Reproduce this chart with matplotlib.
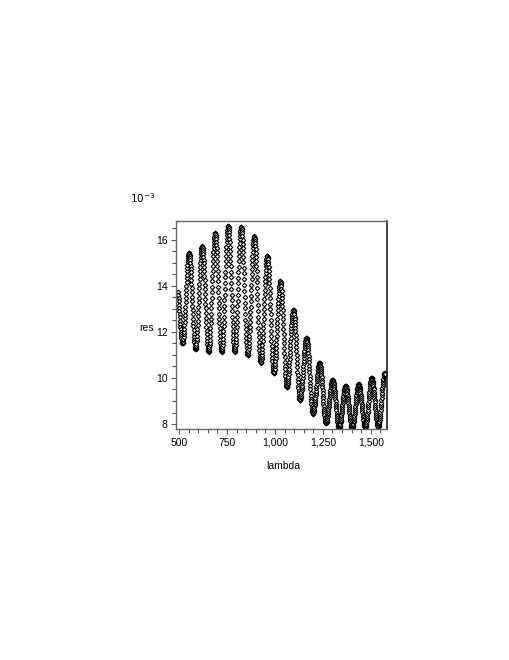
import numpy as np
import matplotlib
matplotlib.use("Agg")
import matplotlib.pyplot as plt
from matplotlib.ticker import FuncFormatter, MultipleLocator

plt.rcParams['font.family'] = ['Liberation Sans', 'DejaVu Sans']

# res in units of 1e-3, one sample per nm, first sample at lam_start
lam_start = 496

# lambda 496 - 789
res_a = [
    13.74, 13.61, 13.47, 13.34, 13.19, 13.05, 12.91, 12.76, 12.63, 12.49, 12.36,
    12.23, 12.12, 12.01, 11.91, 11.81, 11.73, 11.66, 11.61, 11.56, 11.53, 11.51,
    11.50, 11.51, 11.54, 11.57, 11.63, 11.70, 11.79, 11.90, 12.01, 12.14, 12.28, 12.43,
    12.59, 12.75, 12.92, 13.10, 13.28, 13.46, 13.64, 13.82, 14.00, 14.17, 14.33, 14.49,
    14.64, 14.78, 14.91, 15.02, 15.13, 15.22, 15.29, 15.35, 15.39, 15.41,
    15.42, 15.41, 15.38, 15.34, 15.28, 15.20, 15.11, 15.00, 14.87, 14.74, 14.59, 14.43,
    14.26, 14.09, 13.91, 13.72, 13.53, 13.34, 13.14, 12.95, 12.76, 12.58, 12.41, 12.24,
    12.08, 11.93, 11.80, 11.67, 11.56, 11.47, 11.39, 11.33, 11.29, 11.26,
    11.25, 11.26, 11.29, 11.34, 11.40, 11.48, 11.59, 11.70, 11.84, 11.98, 12.14, 12.31,
    12.49, 12.68, 12.87, 13.07, 13.28, 13.49, 13.69, 13.90, 14.10, 14.29, 14.48, 14.66,
    14.83, 14.99, 15.13, 15.27, 15.39, 15.49, 15.57, 15.64, 15.68, 15.71,
    15.72, 15.71, 15.68, 15.63, 15.57, 15.48, 15.38, 15.26, 15.12, 14.98, 14.81, 14.64,
    14.45, 14.26, 14.06, 13.86, 13.65, 13.44, 13.23, 13.02, 12.81, 12.61, 12.42, 12.23,
    12.06, 11.90, 11.75, 11.61, 11.49, 11.39, 11.31, 11.24, 11.19, 11.16,
    11.15, 11.16, 11.20, 11.25, 11.33, 11.42, 11.54, 11.67, 11.83, 11.99, 12.18, 12.37,
    12.58, 12.79, 13.02, 13.25, 13.49, 13.73, 13.96, 14.20, 14.43, 14.66, 14.87, 15.08,
    15.28, 15.46, 15.63, 15.78, 15.91, 16.03, 16.13, 16.20, 16.25, 16.29,
    16.30, 16.29, 16.25, 16.20, 16.13, 16.03, 15.91, 15.78, 15.63, 15.46, 15.28, 15.08,
    14.87, 14.66, 14.43, 14.20, 13.96, 13.72, 13.49, 13.25, 13.02, 12.79, 12.58, 12.37,
    12.18, 11.99, 11.83, 11.67, 11.54, 11.42, 11.33, 11.25, 11.20, 11.16,
    11.15, 11.16, 11.20, 11.25, 11.34, 11.43, 11.56, 11.70, 11.86, 12.04, 12.24, 12.44,
    12.66, 12.89, 13.13, 13.37, 13.62, 13.88, 14.13, 14.38, 14.62, 14.86, 15.09, 15.31,
    15.52, 15.71, 15.89, 16.05, 16.19, 16.32, 16.42, 16.50, 16.55, 16.59,
    16.60, 16.59, 16.55, 16.50, 16.42, 16.32, 16.19, 16.05, 15.89, 15.71, 15.52, 15.31,
    15.09, 14.86, 14.62, 14.38, 14.13, 13.87, 13.62, 13.37, 13.13, 12.89, 12.66, 12.44,
    12.24, 12.04, 11.86, 11.70, 11.56, 11.43, 11.34, 11.25, 11.20, 11.16,
]

# lambda 790 - 1129
res_b = [
    11.15, 11.16, 11.20, 11.25, 11.33, 11.43, 11.56, 11.70, 11.86, 12.03, 12.23, 12.44,
    12.65, 12.88, 13.12, 13.36, 13.61, 13.86, 14.11, 14.36, 14.60, 14.84, 15.07, 15.29,
    15.49, 15.69, 15.86, 16.02, 16.16, 16.29, 16.39, 16.47, 16.52, 16.56,
    16.57, 16.56, 16.52, 16.46, 16.38, 16.28, 16.15, 16.01, 15.84, 15.66, 15.46, 15.25,
    15.03, 14.79, 14.55, 14.30, 14.04, 13.79, 13.53, 13.27, 13.02, 12.78, 12.54, 12.32,
    12.11, 11.91, 11.73, 11.56, 11.42, 11.29, 11.19, 11.11, 11.05, 11.01,
    11.00, 11.01, 11.05, 11.10, 11.18, 11.27, 11.39, 11.52, 11.68, 11.84, 12.03, 12.22,
    12.43, 12.64, 12.87, 13.10, 13.34, 13.58, 13.81, 14.05, 14.28, 14.51, 14.72, 14.93,
    15.13, 15.31, 15.48, 15.63, 15.76, 15.88, 15.98, 16.05, 16.10, 16.14,
    16.15, 16.14, 16.10, 16.05, 15.96, 15.87, 15.74, 15.60, 15.43, 15.26, 15.06, 14.85,
    14.63, 14.40, 14.16, 13.91, 13.66, 13.41, 13.16, 12.91, 12.66, 12.42, 12.19, 11.97,
    11.76, 11.56, 11.39, 11.22, 11.08, 10.96, 10.86, 10.77, 10.72, 10.68,
    10.67, 10.68, 10.71, 10.76, 10.83, 10.91, 11.02, 11.14, 11.28, 11.43, 11.60, 11.77,
    11.96, 12.15, 12.36, 12.57, 12.78, 13.00, 13.21, 13.42, 13.63, 13.84, 14.03, 14.22,
    14.40, 14.56, 14.71, 14.85, 14.97, 15.08, 15.16, 15.23, 15.28, 15.31,
    15.32, 15.31, 15.27, 15.22, 15.15, 15.05, 14.94, 14.80, 14.65, 14.49, 14.30, 14.11,
    13.90, 13.69, 13.46, 13.23, 13.00, 12.76, 12.52, 12.29, 12.06, 11.83, 11.62, 11.41,
    11.22, 11.04, 10.87, 10.72, 10.58, 10.47, 10.37, 10.30, 10.25, 10.21,
    10.20, 10.21, 10.24, 10.28, 10.34, 10.41, 10.50, 10.61, 10.73, 10.86, 11.00, 11.15,
    11.31, 11.48, 11.66, 11.84, 12.03, 12.21, 12.40, 12.58, 12.76, 12.94, 13.11, 13.27,
    13.42, 13.57, 13.69, 13.81, 13.92, 14.01, 14.08, 14.14, 14.18, 14.21,
    14.22, 14.21, 14.18, 14.13, 14.06, 13.98, 13.88, 13.76, 13.62, 13.47, 13.31, 13.13,
    12.95, 12.75, 12.55, 12.34, 12.13, 11.92, 11.71, 11.50, 11.29, 11.09, 10.89, 10.71,
    10.54, 10.37, 10.22, 10.09, 9.97, 9.86, 9.78, 9.71, 9.66, 9.63,
    9.62, 9.63, 9.65, 9.68, 9.73, 9.79, 9.87, 9.96, 10.06, 10.16, 10.29, 10.41,
    10.55, 10.69, 10.83, 10.98, 11.14, 11.29, 11.44, 11.60, 11.75, 11.90, 12.04, 12.17,
    12.30, 12.42, 12.52, 12.62, 12.71, 12.79, 12.85, 12.90, 12.93, 12.95,
    12.96, 12.95, 12.93, 12.89, 12.83, 12.76, 12.67, 12.56, 12.45, 12.32, 12.18, 12.03,
    11.87, 11.71, 11.53, 11.36, 11.18, 11.00, 10.81, 10.63, 10.46, 10.28, 10.12, 9.96,
    9.81, 9.67, 9.55, 9.43, 9.33, 9.23, 9.16, 9.11, 9.07, 9.04,
]

# lambda 1130 - 1574
res_c = [
    9.03, 9.04, 9.05, 9.08, 9.12, 9.17, 9.23, 9.30, 9.38, 9.47, 9.57, 9.67,
    9.78, 9.89, 10.01, 10.13, 10.26, 10.38, 10.50, 10.63, 10.75, 10.87, 10.98, 11.09,
    11.19, 11.29, 11.38, 11.46, 11.53, 11.59, 11.64, 11.68, 11.71, 11.72,
    11.73, 11.72, 11.70, 11.67, 11.62, 11.56, 11.48, 11.40, 11.30, 11.20, 11.08, 10.95,
    10.82, 10.68, 10.54, 10.39, 10.24, 10.09, 9.94, 9.79, 9.64, 9.50, 9.36, 9.23,
    9.10, 8.99, 8.88, 8.78, 8.70, 8.62, 8.56, 8.51, 8.48, 8.46,
    8.45, 8.45, 8.47, 8.49, 8.53, 8.56, 8.62, 8.67, 8.74, 8.81, 8.89, 8.97,
    9.06, 9.15, 9.25, 9.35, 9.45, 9.55, 9.65, 9.75, 9.85, 9.95, 10.04, 10.13,
    10.21, 10.29, 10.36, 10.43, 10.49, 10.54, 10.58, 10.61, 10.63, 10.65,
    10.65, 10.65, 10.63, 10.60, 10.56, 10.52, 10.46, 10.39, 10.31, 10.23, 10.13, 10.03,
    9.93, 9.82, 9.71, 9.59, 9.47, 9.35, 9.23, 9.11, 8.99, 8.88, 8.77, 8.67,
    8.57, 8.47, 8.39, 8.31, 8.25, 8.19, 8.14, 8.10, 8.07, 8.06,
    8.05, 8.05, 8.07, 8.09, 8.11, 8.15, 8.19, 8.24, 8.30, 8.36, 8.42, 8.50,
    8.57, 8.65, 8.73, 8.82, 8.90, 8.99, 9.08, 9.16, 9.25, 9.33, 9.41, 9.48,
    9.56, 9.62, 9.68, 9.74, 9.79, 9.83, 9.87, 9.89, 9.91, 9.93,
    9.93, 9.93, 9.91, 9.89, 9.86, 9.82, 9.77, 9.72, 9.65, 9.59, 9.51, 9.43,
    9.35, 9.26, 9.17, 9.07, 8.98, 8.88, 8.78, 8.69, 8.59, 8.50, 8.41, 8.33,
    8.25, 8.17, 8.11, 8.04, 7.99, 7.94, 7.90, 7.87, 7.85, 7.83,
    7.83, 7.83, 7.85, 7.87, 7.89, 7.93, 7.97, 8.02, 8.07, 8.13, 8.19, 8.26,
    8.34, 8.41, 8.49, 8.58, 8.66, 8.75, 8.83, 8.91, 9.00, 9.08, 9.15, 9.23,
    9.30, 9.36, 9.42, 9.48, 9.52, 9.57, 9.60, 9.63, 9.64, 9.66,
    9.66, 9.66, 9.64, 9.63, 9.60, 9.57, 9.52, 9.48, 9.42, 9.36, 9.30, 9.23,
    9.15, 9.08, 9.00, 8.91, 8.83, 8.74, 8.66, 8.58, 8.49, 8.41, 8.34, 8.26,
    8.19, 8.13, 8.07, 8.02, 7.97, 7.93, 7.89, 7.87, 7.85, 7.83,
    7.83, 7.83, 7.85, 7.87, 7.89, 7.93, 7.97, 8.02, 8.08, 8.14, 8.21, 8.28,
    8.35, 8.43, 8.52, 8.60, 8.69, 8.78, 8.86, 8.95, 9.03, 9.12, 9.20, 9.27,
    9.34, 9.41, 9.47, 9.53, 9.58, 9.62, 9.66, 9.68, 9.70, 9.72,
    9.72, 9.72, 9.70, 9.68, 9.66, 9.62, 9.58, 9.53, 9.47, 9.42, 9.35, 9.28,
    9.20, 9.12, 9.04, 8.96, 8.87, 8.79, 8.70, 8.61, 8.53, 8.45, 8.37, 8.29,
    8.22, 8.16, 8.10, 8.04, 7.99, 7.95, 7.91, 7.89, 7.87, 7.85,
    7.85, 7.85, 7.87, 7.89, 7.92, 7.96, 8.01, 8.07, 8.13, 8.20, 8.28, 8.36,
    8.45, 8.54, 8.63, 8.73, 8.83, 8.93, 9.02, 9.12, 9.22, 9.31, 9.40, 9.49,
    9.57, 9.65, 9.72, 9.78, 9.84, 9.89, 9.93, 9.96, 9.98, 10.00,
    10.00, 10.00, 9.98, 9.96, 9.93, 9.89, 9.84, 9.79, 9.72, 9.65, 9.58, 9.50,
    9.41, 9.32, 9.23, 9.14, 9.04, 8.94, 8.84, 8.75, 8.65, 8.56, 8.47, 8.38,
    8.30, 8.23, 8.16, 8.09, 8.04, 7.99, 7.95, 7.92, 7.90, 7.88,
    7.88, 7.89, 7.90, 7.92, 7.96, 8.00, 8.05, 8.11, 8.18, 8.26, 8.34, 8.43,
    8.52, 8.62, 8.72, 8.83, 8.93, 9.04, 9.15, 9.25, 9.36, 9.46, 9.56, 9.65,
    9.74, 9.82, 9.90, 9.97, 10.03, 10.08, 10.12, 10.16, 10.18, 10.20,
    10.20, 10.20, 10.19,
]

res = np.array(res_a + res_b + res_c)
lam = lam_start + np.arange(len(res))

x_ticks = [500, 750, 1000, 1250, 1500]
y_ticks = [8, 10, 12, 14, 16]

fig = plt.figure(figsize=(5.1, 6.6), dpi=100)
ax = fig.add_axes([0.345, 0.3495, 0.413, 0.315])

ax.plot(lam, res, linestyle='none', marker='D', ms=2.3,
        mfc='white', mec='black', mew=0.8)

ax.set_xlim(484, 1582)
ax.set_ylim(7.77, 16.80)

ax.set_xticks(x_ticks)
ax.xaxis.set_minor_locator(MultipleLocator(50))
ax.xaxis.set_major_formatter(FuncFormatter(lambda v, p: f"{v:,.0f}"))
ax.set_yticks(y_ticks)
ax.yaxis.set_minor_locator(MultipleLocator(0.5))

ax.tick_params(which='both', direction='out', colors='#555555', labelcolor='black',
               labelsize=7.5, width=0.8)
ax.tick_params(which='major', length=3.5, pad=2.5)
ax.tick_params(which='minor', length=2.8)

for side in ['left', 'bottom', 'top']:
    ax.spines[side].set_color('#666666')
    ax.spines[side].set_linewidth(1.0)
ax.spines['right'].set_color('#222222')
ax.spines['right'].set_linewidth(1.2)

fig.text(130 / 510, 1 - 198 / 660, r'$10^{-3}$', fontsize=7.5, ha='left', va='center')
fig.text(147 / 510, 1 - 328 / 660, 'res', fontsize=7.5, ha='center', va='center')
fig.text(283 / 510, 1 - 466 / 660, 'lambda', fontsize=7.5, ha='center', va='center')

fig.savefig('out.png', dpi=100)
